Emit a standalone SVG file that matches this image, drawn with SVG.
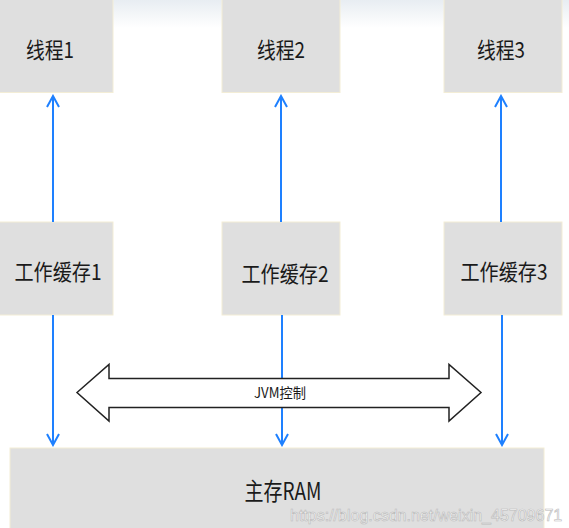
<svg xmlns="http://www.w3.org/2000/svg" width="569" height="528" viewBox="0 0 569 528">
  <defs>
    <linearGradient id="topfade" x1="0" y1="0" x2="0" y2="1">
      <stop offset="0" stop-color="#e8edf2"/>
      <stop offset="1" stop-color="#ffffff"/>
    </linearGradient>
    <marker id="ah" viewBox="0 0 14 14" markerWidth="14" markerHeight="14" refX="12" refY="7" orient="auto" markerUnits="userSpaceOnUse">
      <path d="M1,1 L12,7 L1,13" fill="none" stroke="#1e80ff" stroke-width="2" stroke-linejoin="miter"/>
    </marker>
  </defs>
  <style>
    .box { fill: #dfdfdf; stroke: #f3edd6; stroke-width: 1; }
    .lbl { font-family: "Noto Sans CJK SC", "Liberation Sans", sans-serif; fill: #1a1a1a; text-anchor: middle; }
    .conn { stroke: #1e80ff; stroke-width: 2; fill: none; marker-end: url(#ah); }
    .wm { font-family: "Liberation Sans", Arial, sans-serif; font-size: 16px; fill: #ffffff; fill-opacity: 0.85; stroke: #b8b8b8; stroke-width: 0.6; }
  </style>
  <rect x="0" y="0" width="569" height="528" fill="#ffffff"/>
  <rect x="0" y="0" width="569" height="28" fill="url(#topfade)"/>

  <g id="thread1"><rect class="box" x="-1" y="-1" width="114" height="93.5"/><text class="lbl" x="50" y="58" font-size="22" textLength="48" lengthAdjust="spacingAndGlyphs">线程1</text></g>
  <g id="thread2"><rect class="box" x="222" y="-1" width="118" height="93.5"/><text class="lbl" x="281" y="58" font-size="22" textLength="48" lengthAdjust="spacingAndGlyphs">线程2</text></g>
  <g id="thread3"><rect class="box" x="444" y="-1" width="118" height="93.5"/><text class="lbl" x="501" y="58" font-size="22" textLength="48" lengthAdjust="spacingAndGlyphs">线程3</text></g>

  <g id="cache1"><rect class="box" x="-1" y="222" width="114" height="93"/><text class="lbl" x="58" y="280" font-size="22" textLength="87" lengthAdjust="spacingAndGlyphs">工作缓存1</text></g>
  <g id="cache2"><rect class="box" x="222" y="222" width="118" height="93"/><text class="lbl" x="285" y="282" font-size="22" textLength="87" lengthAdjust="spacingAndGlyphs">工作缓存2</text></g>
  <g id="cache3"><rect class="box" x="444" y="222" width="118" height="93"/><text class="lbl" x="504" y="280" font-size="22" textLength="87" lengthAdjust="spacingAndGlyphs">工作缓存3</text></g>

  <g id="ram"><rect class="box" x="10" y="448" width="534" height="82"/><text class="lbl" x="283" y="500" font-size="24" textLength="77" lengthAdjust="spacingAndGlyphs">主存RAM</text></g>

  <g id="connectors">
    <line class="conn" x1="53" y1="222" x2="53" y2="96"/>
    <line class="conn" x1="281" y1="222" x2="281" y2="96"/>
    <line class="conn" x1="501" y1="222" x2="501" y2="96"/>
    <line class="conn" x1="53" y1="315" x2="53" y2="445"/>
    <line class="conn" x1="282" y1="315" x2="282" y2="445"/>
    <line class="conn" x1="502" y1="315" x2="502" y2="445"/>
  </g>

  <g id="jvm">
    <polygon points="77,392.5 109,364.5 109,378.5 449,378.5 449,364.5 481,392.5 449,421 449,407.5 109,407.5 109,421" fill="#ffffff" stroke="#222222" stroke-width="1.5" stroke-linejoin="miter"/>
    <text class="lbl" x="280" y="398" font-size="14" textLength="52" lengthAdjust="spacingAndGlyphs">JVM控制</text>
  </g>

  <text class="wm" x="290" y="521">https://blog.csdn.net/weixin_45709671</text>
</svg>
